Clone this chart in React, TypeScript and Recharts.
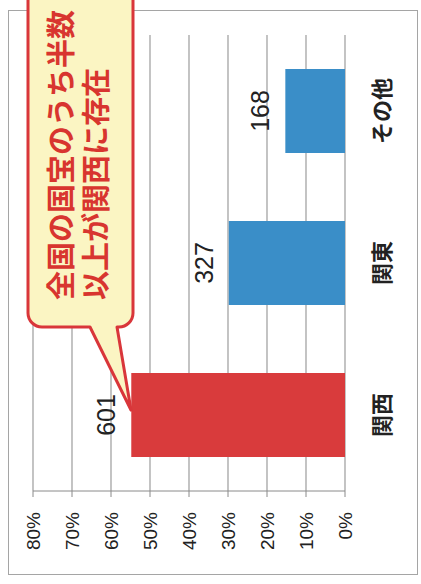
import React from 'react';
import { BarChart, Bar, XAxis, YAxis, CartesianGrid, LabelList, Cell } from 'recharts';

const categories = ['関西', '関東', 'その他'];
const counts = [601, 327, 168];
const shares = [0.548, 0.298, 0.153];
const barColors = ['#d93b3c', '#3a8ec8', '#3a8ec8'];
const yTicks = [0, 0.1, 0.2, 0.3, 0.4, 0.5, 0.6, 0.7, 0.8];
const edgeTicks = [0, 1, 2, 3];
const calloutLines = ['全国の国宝のうち半数', '以上が関西に存在'];

const data = categories.map((c, i) => ({ name: c, share: shares[i], count: counts[i] }));

const W = 584;
const H = 421;
const latin = '"Liberation Sans", Arial, sans-serif';
const cjk = '"Noto Sans CJK JP", "Noto Sans", sans-serif';

const YTick = (props: any) => {
  const { x, y, payload } = props;
  return (
    <text x={x} y={y} dy={7} textAnchor="end" fontSize={19} fill="#222" fontFamily={latin}>
      {Math.round(payload.value * 100) + '%'}
    </text>
  );
};

const Callout = () => {
  const r = 14;
  const u0 = 257;
  const v0 = 28;
  const v1 = 133;
  const uEnd = 640;
  const d = [
    `M ${u0 + r} ${v0}`,
    `L ${uEnd} ${v0}`,
    `L ${uEnd} ${v1}`,
    `L ${u0 + r} ${v1}`,
    `A ${r} ${r} 0 0 1 ${u0} ${v1 - r}`,
    `L ${u0} 117`,
    `L 174 131`,
    `L ${u0} 90`,
    `L ${u0} ${v0 + r}`,
    `A ${r} ${r} 0 0 1 ${u0 + r} ${v0}`,
    'Z',
  ].join(' ');
  return (
    <svg
      width={W}
      height={H}
      style={{ position: 'absolute', left: 0, top: 0, pointerEvents: 'none', overflow: 'hidden' }}
    >
      <path d={d} fill="#fbf5c3" stroke="#d9363a" strokeWidth={3} strokeLinejoin="round" />
      {calloutLines.map((line, i) => (
        <text
          key={i}
          x={284}
          y={72 + i * 35}
          fontSize={29}
          fontWeight={700}
          fill="#d8352f"
          fontFamily={cjk}
        >
          {line}
        </text>
      ))}
    </svg>
  );
};

export default function App() {
  return (
    <div
      style={{
        position: 'fixed',
        left: 0,
        top: 0,
        width: 421,
        height: 584,
        overflow: 'hidden',
        background: '#ffffff',
      }}
    >
      <div
        style={{
          position: 'absolute',
          left: 0,
          top: 0,
          width: W,
          height: H,
          transformOrigin: '0 0',
          transform: `translate(0px, ${W}px) rotate(-90deg)`,
        }}
      >
        <div
          style={{
            position: 'absolute',
            left: 9,
            top: 8,
            width: 565,
            height: 410,
            border: '1.5px solid #a5a5a5',
            boxSizing: 'border-box',
          }}
        />
        <div style={{ position: 'absolute', left: 0, top: 0 }}>
          <BarChart width={W} height={H} data={data} margin={{ top: 33, right: 35, bottom: 46, left: 33 }}>
            <CartesianGrid vertical={false} stroke="#9c9c9c" strokeWidth={1.2} xAxisId="cat" />
            <XAxis
              xAxisId="edge"
              type="number"
              domain={[0, 3]}
              allowDataOverflow
              ticks={edgeTicks}
              height={0}
              tickSize={6}
              tickFormatter={() => ''}
              stroke="#8a8a8a"
            />
            <XAxis
              xAxisId="cat"
              dataKey="name"
              height={30}
              axisLine={false}
              tickLine={false}
              tickMargin={23}
              tick={{ fontSize: 22, fill: '#222', fontWeight: 700, fontFamily: cjk }}
            />
            <YAxis
              width={60}
              domain={[0, 0.8]}
              ticks={yTicks}
              tickSize={6}
              tickMargin={15}
              stroke="#8a8a8a"
              tick={<YTick />}
            />
            <Bar dataKey="share" xAxisId="cat" barSize={84} isAnimationActive={false}>
              {data.map((d, i) => (
                <Cell key={d.name} fill={barColors[i]} />
              ))}
              <LabelList
                dataKey="count"
                position="top"
                offset={16}
                fontSize={25}
                fill="#222"
                fontFamily={latin}
              />
            </Bar>
          </BarChart>
        </div>
        <Callout />
      </div>
    </div>
  );
}
